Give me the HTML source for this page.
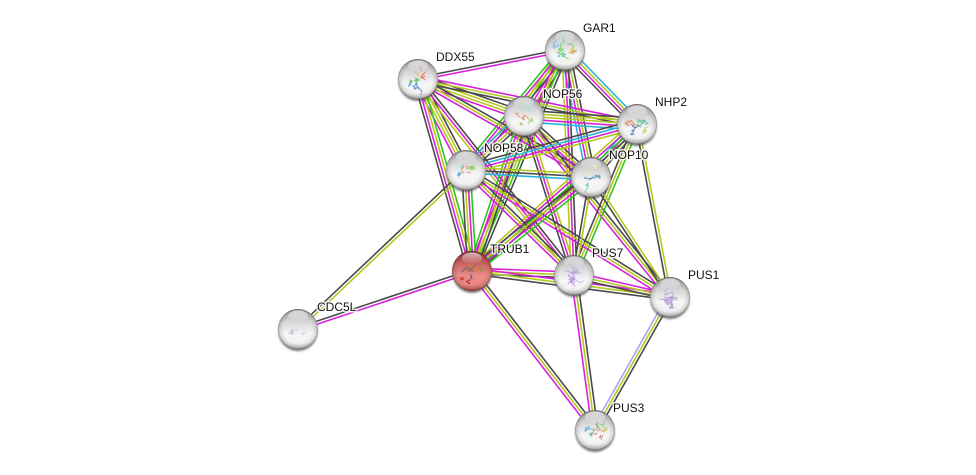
<!DOCTYPE html>
<html><head><meta charset="utf-8"><style>
html,body{margin:0;padding:0;background:#fff;width:976px;height:475px;overflow:hidden}
svg{display:block}
text{font-family:"Liberation Sans",sans-serif;font-size:12px;fill:#111;stroke:#fff;stroke-width:3px;stroke-opacity:.8;paint-order:stroke;stroke-linejoin:round}
</style></head><body>
<svg id="s" xmlns="http://www.w3.org/2000/svg" width="976" height="475" viewBox="0 0 976 475">
<defs>
<linearGradient id="gw" x1="0" y1="0" x2="0" y2="1"><stop offset="0" stop-color="#a6a6a6"/><stop offset=".3" stop-color="#d4d4d4"/><stop offset=".62" stop-color="#f6f6f6"/><stop offset=".85" stop-color="#f2f2f2"/><stop offset="1" stop-color="#c4c4c4"/></linearGradient>
<linearGradient id="gr" x1="0" y1="0" x2="0" y2="1"><stop offset="0" stop-color="#9a3a38"/><stop offset=".3" stop-color="#c66360"/><stop offset=".62" stop-color="#ea8c88"/><stop offset=".85" stop-color="#e88582"/><stop offset="1" stop-color="#b85450"/></linearGradient>
<radialGradient id="rim" cx="50%" cy="50%" r="50%"><stop offset=".72" stop-color="#000" stop-opacity="0"/><stop offset=".93" stop-color="#000" stop-opacity=".13"/><stop offset="1" stop-color="#000" stop-opacity=".42"/></radialGradient>
<linearGradient id="hl" x1="0" y1="0" x2="0" y2="1"><stop offset="0" stop-color="#fff" stop-opacity=".75"/><stop offset="1" stop-color="#fff" stop-opacity=".05"/></linearGradient>
<filter id="bl" x="-30%" y="-30%" width="160%" height="160%"><feGaussianBlur stdDeviation="1.1"/></filter>
</defs>
<g id="edges" fill="none" stroke-width="1.6"></g>
<g id="nodes"></g>
<g>
<text x="583" y="32">GAR1</text>
<text x="436" y="61">DDX55</text>
<text x="543" y="98">NOP56</text>
<text x="655" y="106">NHP2</text>
<text x="484" y="152">NOP58</text>
<text x="609" y="159">NOP10</text>
<text x="490" y="253">TRUB1</text>
<text x="592" y="257">PUS7</text>
<text x="688" y="279">PUS1</text>
<text x="317" y="311">CDC5L</text>
<text x="613" y="412">PUS3</text>
</g>
</svg>
<script>
var N={GAR:[565,50],DDX:[418,79],N56:[524,116],NHP:[637,124],N58:[466,170],N10:[591,177],TRU:[472,271],P7:[574,275],P1:[670,297],CDC:[298,329],P3:[595,430]};
var C={k:'#4a4a4a',y:'#b4c81e',m:'#d822d8',g:'#2ec61e',c:'#26b4dc',b:'#a2a8f4'};
var E=[['GAR','DDX','mk'],['DDX','N56','kyym'],['GAR','N56','kymgy'],['GAR','NHP','cymk'],['GAR','N58','kymg'],['GAR','N10','kymc'],['GAR','TRU','kgym'],['GAR','P7','kmy'],
['DDX','NHP','myk'],['DDX','N10','kym'],['DDX','N58','kyym'],['DDX','TRU','gymk'],['DDX','P7','kmy'],
['N56','NHP','kyymc'],['N56','N58','kymc'],['N56','N10','kym'],['N56','TRU','kymg'],['N56','P7','ymk'],['N56','P1','kym'],
['NHP','N58','ymck'],['NHP','N10','kymc'],['NHP','TRU','kgmy'],['NHP','P7','gyk'],['NHP','P1','yk'],
['N58','N10','ykc'],['N58','TRU','gmyk'],['N58','P7','kym'],['N58','P1','kym'],
['N10','TRU','gmyk'],['N10','P7','yk'],['N10','P1','yk'],
['TRU','P7','myk'],['TRU','P1','myk'],['P7','P1','myk'],['TRU','CDC','mk'],['N58','CDC','yk'],['TRU','P3','kym'],['P7','P3','kym'],['P1','P3','kyb']];
var NS='http://www.w3.org/2000/svg',eg=document.getElementById('edges'),ng=document.getElementById('nodes');
function el(p,t,a){var e=document.createElementNS(NS,t);for(var k in a)e.setAttribute(k,a[k]);p.appendChild(e);return e}
E.forEach(function(e){var a=N[e[0]],b=N[e[1]],dx=b[0]-a[0],dy=b[1]-a[1],l=Math.hypot(dx,dy),nx=-dy/l,ny=dx/l,n=e[2].length;
for(var i=0;i<n;i++){var o=(i-(n-1)/2)*2.9;el(eg,'line',{x1:(a[0]+nx*o).toFixed(1),y1:(a[1]+ny*o).toFixed(1),x2:(b[0]+nx*o).toFixed(1),y2:(b[1]+ny*o).toFixed(1),stroke:C[e[2][i]]})}});
var L='#c4a8e0',L2='#b498d6';
var P={GAR:[[-7,-4,'#7ab8e8',8],[-5,3,'#6fd060',8],[0,-6,'#5fd05f',7],[6,3,'#e89a50',7],[-1,6,'#58c0c0',5],[8,-1,'#c8d860',4]],
DDX:[[-5,0,'#5fc85f',9],[-3,7,'#4a7fd0',8],[6,-5,'#e86f4f',7],[0,-6,'#d8c070',5],[-8,5,'#6fb0e0',4]],
N56:[[3,-8,'#9fdcd8',6],[-2,3,'#e88f60',6],[6,5,'#8fd070',5],[-3,8,'#a8c880',3]],
NHP:[[-7,-1,'#e8804f',8],[-2,5,'#4a6fc8',8],[6,-5,'#6fd0a0',8],[8,7,'#c8c850',5],[2,0,'#50b8a8',6]],
N58:[[-8,3,'#60b0d8',6],[0,0,'#e89a70',7],[8,-1,'#90d060',8],[-3,-3,'#60c8c0',4]],
N10:[[0,-6,'#e8e0a0',8],[3,3,'#3f8fb8',8],[-5,7,'#70d0b0',7],[7,-1,'#4aa0c0',3]],
TRU:[[0,-6,'#d8801f',7],[0,3,'#5a4fa0',8],[-8,8,'#c02f2f',4],[-3,11,'#c02f2f',4],[10,-2,'#6a9f30',3],[-3,-1,'#b0703f',4]],
P7:[[-4,-1,L,8],[3,-2,L2,8],[3,4,L,9],[-2,4,L2,8],[0,0,L,9]],
P1:[[-3,-2,L,9],[3,0,L2,10],[0,4,L,9],[4,7,'#a894c4',7],[-5,3,L2,6]],
CDC:[[-4,2,L,4],[-7,3,L2,3],[6,5,L,2]],
P3:[[2,-5,'#7fd080',8],[0,3,'#e89080',7],[-7,-1,'#60b0d8',5],[8,-1,'#c8c850',5],[-3,4,'#60c8b0',5],[4,8,'#d87060',3]]};
var seed=11;function r(){seed=(seed*16807)%2147483647;return seed/2147483647}
for(var k in N){var x=N[k][0],y=N[k][1],R=20,red=k=='TRU',g=el(ng,'g',{});
el(g,'ellipse',{cx:x,cy:y+2.5,rx:R-.5,ry:R-.5,fill:'#444',opacity:.75,filter:'url(#bl)'});
el(g,'circle',{cx:x,cy:y,r:R,fill:red?'url(#gr)':'url(#gw)'});
el(g,'circle',{cx:x,cy:y,r:R,fill:'url(#rim)'});
P[k].forEach(function(s){for(var c=0;c<3;c++){var px=x+s[0]+(r()-.5)*s[3]*.8,py=y+s[1]+(r()-.5)*s[3]*.8,d='M'+px.toFixed(1)+' '+py.toFixed(1);
for(var j=0;j<4;j++){px+=(r()-.5)*s[3]*.9;py+=(r()-.5)*s[3]*.9;d+='L'+px.toFixed(1)+' '+py.toFixed(1)}
el(g,'path',{d:d,fill:'none',stroke:s[2],'stroke-width':k=='CDC'?.6:.9,opacity:.9});}});
el(g,'ellipse',{cx:x,cy:y-13,rx:10,ry:5.5,fill:'url(#hl)',opacity:.85});
}
</script>
</body></html>
